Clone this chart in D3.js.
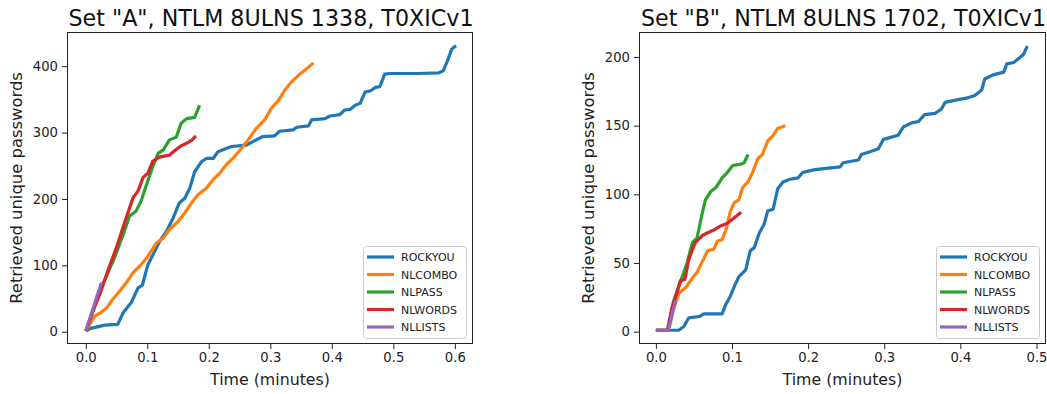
<!DOCTYPE html>
<html>
<head>
<meta charset="utf-8">
<script src="https://cdn.jsdelivr.net/npm/d3@7"></script>
<style>
  body { margin: 0; background: #fff; }
  svg { display: block; font-family: "DejaVu Sans", sans-serif; }
</style>
</head>
<body>
<div id="chart-area"></div>
<script>

// ---- data: [time in minutes, retrieved unique passwords] ----
var seriesNames = ["ROCKYOU", "NLCOMBO", "NLPASS", "NLWORDS", "NLLISTS"];
var seriesColors = ["#1f77b4", "#ff7f0e", "#2ca02c", "#d62728", "#9467bd"];

var aRockyou = [[0,1],[0.008,5],[0.031,10],[0.052,11],[0.061,29],[0.074,44],[0.085,66],[0.092,70],
  [0.101,101],[0.112,121],[0.120,136],[0.131,151],[0.142,171],[0.152,194],[0.161,201],[0.169,216],
  [0.177,241],[0.188,256],[0.196,261],[0.207,261],[0.215,271],[0.223,274],[0.237,279],[0.261,281],
  [0.277,289],[0.288,294],[0.307,295],[0.315,302],[0.337,304],[0.343,308],[0.362,310],[0.367,319],
  [0.389,321],[0.397,325],[0.413,327],[0.421,334],[0.430,335],[0.438,341],[0.446,344],[0.454,361],
  [0.463,363],[0.471,368],[0.478,369],[0.486,388],[0.495,389],[0.539,389],[0.574,390],[0.581,393],
  [0.588,408],[0.595,426],[0.602,431]];
var aNlcombo = [[0,1],[0.015,24],[0.025,29],[0.034,36],[0.044,49],[0.055,61],[0.066,74],[0.077,89],
  [0.088,99],[0.099,111],[0.115,134],[0.126,141],[0.136,154],[0.150,166],[0.161,179],[0.172,194],
  [0.182,206],[0.196,216],[0.207,229],[0.218,239],[0.228,251],[0.239,261],[0.253,276],[0.264,289],
  [0.277,306],[0.291,319],[0.302,337],[0.313,348],[0.323,363],[0.334,376],[0.348,388],[0.359,396],[0.370,405]];
var aNlpass = [[0,1],[0.028,72],[0.047,112],[0.061,147],[0.071,174],[0.082,182],[0.090,197],[0.099,222],
  [0.109,249],[0.118,269],[0.126,274],[0.136,289],[0.147,293],[0.155,314],[0.164,321],[0.177,323],[0.185,341]];
var aNlwords = [[0,1],[0.012,32],[0.023,57],[0.036,92],[0.050,127],[0.063,164],[0.077,202],[0.085,212],
  [0.093,232],[0.101,239],[0.109,257],[0.120,263],[0.136,266],[0.145,273],[0.155,280],[0.166,285],
  [0.173,289],[0.179,295]];
var aNllists = [[0,1],[0.0255,74]];

var bRockyou = [[0,1],[0.030,1],[0.037,4],[0.043,10],[0.057,11],[0.063,13],[0.087,13],[0.092,20],
  [0.098,26],[0.103,33],[0.109,40],[0.118,45],[0.124,59],[0.129,61],[0.136,72],[0.142,78],[0.147,88],
  [0.154,89],[0.160,104],[0.167,109],[0.176,111],[0.187,112],[0.193,116],[0.209,118],[0.242,120],
  [0.246,123],[0.266,125],[0.270,129],[0.292,133],[0.299,140],[0.318,143],[0.325,149],[0.336,152],
  [0.345,153],[0.353,158],[0.367,159],[0.375,162],[0.380,167],[0.397,169],[0.408,170],[0.419,172],
  [0.428,176],[0.432,184],[0.443,187],[0.457,189],[0.461,195],[0.470,196],[0.479,200],[0.483,202],[0.488,208]];
var bNlcombo = [[0,1],[0.016,1],[0.019,6],[0.023,16],[0.030,28],[0.039,32],[0.048,39],[0.054,43],
  [0.061,51],[0.068,59],[0.076,60],[0.081,66],[0.087,67],[0.092,74],[0.098,88],[0.103,94],[0.109,96],
  [0.114,105],[0.121,109],[0.127,116],[0.134,126],[0.140,129],[0.147,139],[0.154,143],[0.160,148],[0.170,150]];
var bNlpass = [[0,1],[0.016,1],[0.023,22],[0.034,39],[0.041,50],[0.048,65],[0.054,68],[0.060,84],
  [0.065,96],[0.072,102],[0.079,105],[0.087,112],[0.094,116],[0.101,121],[0.112,122],[0.116,123],[0.121,129]];
var bNlwords = [[0,1],[0.015,1],[0.021,17],[0.028,29],[0.032,37],[0.038,38],[0.043,52],[0.048,60],
  [0.052,65],[0.061,70],[0.068,72],[0.076,74],[0.085,77],[0.094,79],[0.101,82],[0.112,87]];
var bNllists = [[0,1],[0.016,1],[0.026,23]];

var aTicksX = [0, 0.1, 0.2, 0.3, 0.4, 0.5, 0.6];
var aTicksY = [0, 100, 200, 300, 400];
var bTicksX = [0, 0.1, 0.2, 0.3, 0.4, 0.5];
var bTicksY = [0, 50, 100, 150, 200];

var panels = [
  { title: 'Set "A", NTLM 8ULNS 1338, T0XICv1', left: 67, right: 473,
    xDomain: [-0.0305, 0.6295], yDomain: [-18.5, 451.5], ticksX: aTicksX, ticksY: aTicksY,
    series: [aRockyou, aNlcombo, aNlpass, aNlwords, aNllists] },
  { title: 'Set "B", NTLM 8ULNS 1702, T0XICv1', left: 639, right: 1046,
    xDomain: [-0.0222, 0.5125], yDomain: [-9.0, 218.2], ticksX: bTicksX, ticksY: bTicksY,
    series: [bRockyou, bNlcombo, bNlpass, bNlwords, bNllists] }
];

var plotTop = 32, plotBottom = 344;

var svg = d3.select("#chart-area")
  .append("svg")
    .attr("width", 1047)
    .attr("height", 394);

panels.forEach(function(p) {
  var x = d3.scaleLinear().domain(p.xDomain).range([p.left, p.right]);
  var y = d3.scaleLinear().domain(p.yDomain).range([plotBottom, plotTop]);
  var g = svg.append("g");

  // lines
  var line = d3.line()
    .x(function(d) { return x(d[0]); })
    .y(function(d) { return y(d[1]); });

  p.series.forEach(function(s, i) {
    g.append("path")
      .datum(s)
      .attr("fill", "none")
      .attr("stroke", seriesColors[i])
      .attr("stroke-width", 3.2)
      .attr("stroke-linejoin", "round")
      .attr("stroke-linecap", "butt")
      .attr("d", line);
  });

  // frame
  g.append("rect")
    .attr("x", p.left + 0.5)
    .attr("y", plotTop + 0.5)
    .attr("width", p.right - p.left - 1)
    .attr("height", plotBottom - plotTop - 1)
    .attr("fill", "none")
    .attr("stroke", "#222")
    .attr("stroke-width", 1);

  // axes
  var xAxis = g.append("g")
    .attr("transform", "translate(0," + plotBottom + ")")
    .call(d3.axisBottom(x).tickValues(p.ticksX).tickFormat(d3.format(".1f")).tickSize(5).tickPadding(4));
  var yAxis = g.append("g")
    .attr("transform", "translate(" + p.left + ",0)")
    .call(d3.axisLeft(y).tickValues(p.ticksY).tickFormat(d3.format("d")).tickSize(5).tickPadding(4));

  [xAxis, yAxis].forEach(function(a) {
    a.select(".domain").remove();
    a.selectAll("line").attr("stroke", "#222");
    a.selectAll("text")
      .attr("fill", "#222")
      .attr("font-size", "13.2px")
      .attr("font-family", "DejaVu Sans");
  });

  // title
  g.append("text")
    .attr("x", (p.left + p.right) / 2 + 1)
    .attr("y", 26)
    .attr("text-anchor", "middle")
    .attr("font-size", "22.2px")
    .attr("fill", "#111")
    .text(p.title);

  // axis labels
  g.append("text")
    .attr("x", (p.left + p.right) / 2)
    .attr("y", 385)
    .attr("text-anchor", "middle")
    .attr("font-size", "15.8px")
    .attr("fill", "#222")
    .text("Time (minutes)");

  g.append("text")
    .attr("transform", "translate(" + (p.left - 45) + "," + ((plotTop + plotBottom) / 2) + ") rotate(-90)")
    .attr("text-anchor", "middle")
    .attr("font-size", "16.4px")
    .attr("fill", "#222")
    .text("Retrieved unique passwords");

  // legend
  var lg = g.append("g")
    .attr("transform", "translate(" + (p.right - 110) + "," + 246 + ")");
  lg.append("rect")
    .attr("x", 0.5).attr("y", 0.5)
    .attr("width", 103).attr("height", 92)
    .attr("rx", 3)
    .attr("fill", "#fff")
    .attr("fill-opacity", 0.8)
    .attr("stroke", "#ccc");
  seriesNames.forEach(function(name, i) {
    var yy = 11 + i * 17.5;
    lg.append("line")
      .attr("x1", 4).attr("x2", 31)
      .attr("y1", yy).attr("y2", yy)
      .attr("stroke", seriesColors[i])
      .attr("stroke-width", 3.2);
    lg.append("text")
      .attr("x", 38)
      .attr("y", yy + 4)
      .attr("font-size", "11px")
      .attr("fill", "#222")
      .text(name);
  });
});

</script>
</body>
</html>
